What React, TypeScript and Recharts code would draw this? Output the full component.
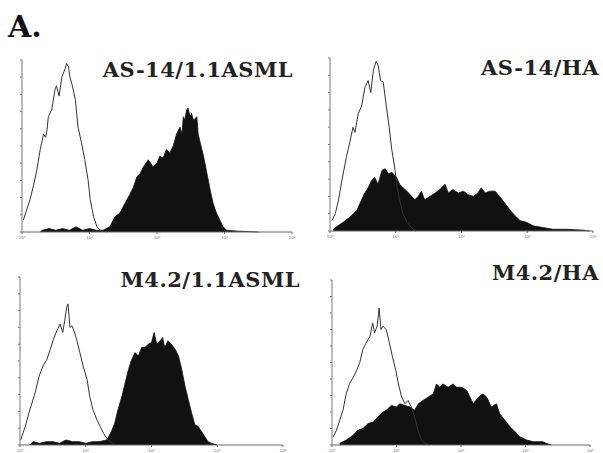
import { ComposedChart, Area, XAxis, YAxis } from "recharts";

// fluorescence histograms: [log10 decade, % of axis height]
const as14AsmlControl = [
  [0.02, 7], [0.07, 13], [0.12, 19], [0.17, 27], [0.22, 36], [0.27, 48], [0.32, 57], [0.35, 55],
  [0.37, 59], [0.39, 67], [0.44, 71], [0.49, 83], [0.51, 85], [0.55, 79], [0.59, 90], [0.64, 95],
  [0.66, 98], [0.69, 96], [0.71, 90], [0.74, 86], [0.79, 77], [0.83, 61], [0.88, 52], [0.93, 42],
  [0.98, 30], [1.01, 19], [1.06, 9], [1.11, 3], [1.16, 1], [1.25, 0],
];
const as14AsmlStained = [
  [0.27, 0], [0.3, 1], [0.4, 2], [0.5, 1], [0.6, 2], [0.7, 1], [0.8, 3], [0.9, 1], [1.0, 2],
  [1.1, 1], [1.2, 1], [1.3, 3], [1.38, 9], [1.45, 11], [1.53, 17], [1.6, 22], [1.65, 26], [1.7, 32],
  [1.75, 34], [1.8, 38], [1.87, 42], [1.94, 38], [2.0, 40], [2.04, 44], [2.09, 43], [2.14, 48],
  [2.19, 46], [2.24, 50], [2.29, 57], [2.34, 61], [2.37, 57], [2.39, 67], [2.41, 65], [2.44, 71],
  [2.46, 72], [2.49, 67], [2.51, 69], [2.54, 65], [2.59, 67], [2.61, 57], [2.64, 52], [2.69, 44],
  [2.74, 34], [2.79, 24], [2.83, 17], [2.88, 11], [2.93, 7], [2.98, 3], [3.03, 1], [3.2, 0.5], [3.5, 0],
];
const as14HaControl = [
  [0.03, 6], [0.08, 10], [0.13, 18], [0.18, 29], [0.25, 43], [0.3, 51], [0.35, 60], [0.38, 57],
  [0.43, 68], [0.48, 72], [0.53, 83], [0.58, 87], [0.62, 80], [0.66, 93], [0.7, 98], [0.73, 96],
  [0.77, 87], [0.81, 86], [0.85, 74], [0.9, 60], [0.94, 47], [0.99, 35], [1.02, 25], [1.06, 18],
  [1.11, 10], [1.17, 5], [1.24, 2], [1.3, 0],
];
const as14HaStained = [
  [0.05, 1], [0.12, 3], [0.2, 5], [0.3, 8], [0.41, 12], [0.48, 18], [0.53, 22], [0.58, 25],
  [0.63, 29], [0.68, 31], [0.73, 27], [0.79, 35], [0.84, 36], [0.89, 33], [0.94, 34], [1.01, 31],
  [1.06, 27], [1.11, 25], [1.17, 23], [1.22, 21], [1.29, 18], [1.34, 20], [1.39, 23], [1.44, 18],
  [1.52, 20], [1.6, 22], [1.67, 24], [1.75, 27], [1.8, 22], [1.87, 24], [1.95, 22], [2.03, 23],
  [2.1, 21], [2.18, 20], [2.25, 22], [2.3, 25], [2.36, 22], [2.43, 23], [2.51, 23], [2.58, 20],
  [2.66, 16], [2.74, 12], [2.81, 9], [2.89, 6], [2.99, 5], [3.09, 3], [3.24, 2], [3.39, 1],
  [3.6, 1], [3.85, 0.5], [3.95, 0],
];
const m42AsmlControl = [
  [0.01, 3], [0.08, 11], [0.15, 21], [0.23, 31], [0.29, 41], [0.35, 47], [0.41, 51], [0.46, 57],
  [0.51, 63], [0.56, 68], [0.61, 72], [0.65, 67], [0.68, 74], [0.71, 82], [0.73, 84], [0.76, 70],
  [0.79, 71], [0.82, 68], [0.86, 63], [0.91, 55], [0.96, 47], [1.02, 39], [1.06, 29], [1.11, 21],
  [1.17, 15], [1.22, 11], [1.27, 7], [1.32, 4], [1.37, 2], [1.45, 0],
];
const m42AsmlStained = [
  [0.15, 0], [0.2, 2], [0.3, 1], [0.4, 2], [0.5, 2], [0.6, 1], [0.7, 3], [0.8, 2], [0.9, 2],
  [1.0, 1], [1.1, 2], [1.2, 2], [1.32, 3], [1.39, 8], [1.44, 13], [1.49, 21], [1.55, 29], [1.6, 37],
  [1.65, 45], [1.7, 51], [1.75, 55], [1.8, 53], [1.85, 58], [1.9, 58], [1.95, 60], [2.0, 61],
  [2.04, 67], [2.08, 60], [2.13, 62], [2.17, 64], [2.2, 58], [2.25, 62], [2.3, 60], [2.36, 57],
  [2.41, 53], [2.46, 45], [2.51, 35], [2.56, 27], [2.61, 19], [2.66, 12], [2.71, 11], [2.76, 8],
  [2.81, 5], [2.86, 2], [2.91, 1], [3.0, 0],
];
const m42HaControl = [
  [0.02, 5], [0.07, 9], [0.12, 15], [0.17, 21], [0.22, 31], [0.27, 37], [0.33, 41], [0.38, 45],
  [0.43, 50], [0.48, 58], [0.53, 62], [0.59, 66], [0.63, 74], [0.66, 68], [0.7, 72], [0.73, 83],
  [0.76, 70], [0.79, 72], [0.84, 70], [0.89, 62], [0.94, 53], [0.99, 45], [1.03, 37], [1.08, 29],
  [1.13, 25], [1.18, 27], [1.23, 23], [1.28, 17], [1.33, 9], [1.39, 3], [1.44, 1], [1.5, 0],
];
const m42HaStained = [
  [0.12, 1], [0.22, 3], [0.33, 6], [0.4, 9], [0.48, 10], [0.56, 13], [0.64, 14], [0.71, 17],
  [0.79, 20], [0.84, 21], [0.92, 24], [1.0, 23], [1.05, 25], [1.13, 24], [1.21, 23], [1.28, 21],
  [1.34, 25], [1.41, 27], [1.49, 29], [1.57, 31], [1.62, 37], [1.67, 35], [1.72, 37], [1.8, 35],
  [1.88, 37], [1.93, 35], [2.01, 35], [2.09, 33], [2.14, 29], [2.19, 25], [2.27, 29], [2.34, 31],
  [2.4, 29], [2.47, 23], [2.55, 25], [2.6, 19], [2.68, 15], [2.76, 11], [2.84, 8], [2.91, 5],
  [3.02, 3], [3.12, 2], [3.27, 2], [3.32, 1], [3.4, 0],
];

const decadeTicks = [0, 1, 2, 3, 4];
const decadeLabels = ["10⁰", "10¹", "10²", "10³", "10⁴"];
const countTicks = [0, 10, 20, 30, 40, 50, 60, 70, 80, 90, 100];

const panels = [
  { title: "AS-14/1.1ASML", control: as14AsmlControl, stained: as14AsmlStained, left: 12, top: 50, width: 290, height: 190, titleX: 293, titleY: 77 },
  { title: "AS-14/HA", control: as14HaControl, stained: as14HaStained, left: 320, top: 48, width: 283, height: 191, titleX: 599, titleY: 75 },
  { title: "M4.2/1.1ASML", control: m42AsmlControl, stained: m42AsmlStained, left: 10, top: 267, width: 283, height: 186, titleX: 300, titleY: 287 },
  { title: "M4.2/HA", control: m42HaControl, stained: m42HaStained, left: 322, top: 270, width: 278, height: 183, titleX: 599, titleY: 280 },
];

const toRows = (arr: number[][]) => arr.map(([x, y]) => ({ x, y }));

const serif = "'DejaVu Serif', 'Liberation Serif', serif";

const Histogram = ({ p }: { p: (typeof panels)[number] }) => (
  <div style={{ position: "absolute", left: p.left, top: p.top }}>
    <ComposedChart width={p.width} height={p.height} margin={{ top: 10, right: 10, bottom: 0, left: 6 }}>
      <XAxis
        type="number"
        dataKey="x"
        domain={[0, 4]}
        ticks={decadeTicks}
        tickFormatter={(v: number) => decadeLabels[v]}
        tick={{ fontSize: 4, fill: "#666", fontFamily: serif }}
        tickSize={2}
        height={8}
        stroke="#666"
        allowDataOverflow
      />
      <YAxis
        type="number"
        domain={[0, 100]}
        ticks={countTicks}
        tickFormatter={() => ""}
        tickSize={2}
        width={4}
        stroke="#777"
      />
      <Area
        data={toRows(p.stained)}
        dataKey="y"
        type="linear"
        fill="#111"
        fillOpacity={1}
        stroke="#111"
        strokeWidth={0.8}
        dot={false}
        activeDot={false}
        isAnimationActive={false}
      />
      <Area
        data={toRows(p.control)}
        dataKey="y"
        type="linear"
        fill="none"
        stroke="#333"
        strokeWidth={1}
        dot={false}
        activeDot={false}
        isAnimationActive={false}
      />
    </ComposedChart>
  </div>
);

export default function App() {
  return (
    <div style={{ position: "absolute", left: 0, top: 0, width: 603, height: 453, background: "#fff", overflow: "hidden" }}>
      {panels.map((p) => (
        <Histogram key={p.title} p={p} />
      ))}
      <svg width={603} height={453} style={{ position: "absolute", left: 0, top: 0, pointerEvents: "none" }}>
        <text x={8} y={37} fontFamily={serif} fontWeight="bold" fontSize={30} fill="#111">
          A.
        </text>
        {panels.map((p) => (
          <text
            key={p.title}
            x={p.titleX}
            y={p.titleY}
            textAnchor="end"
            fontFamily={serif}
            fontWeight="bold"
            fontSize={21}
            letterSpacing={0.5}
            fill="#222"
          >
            {p.title}
          </text>
        ))}
      </svg>
    </div>
  );
}
